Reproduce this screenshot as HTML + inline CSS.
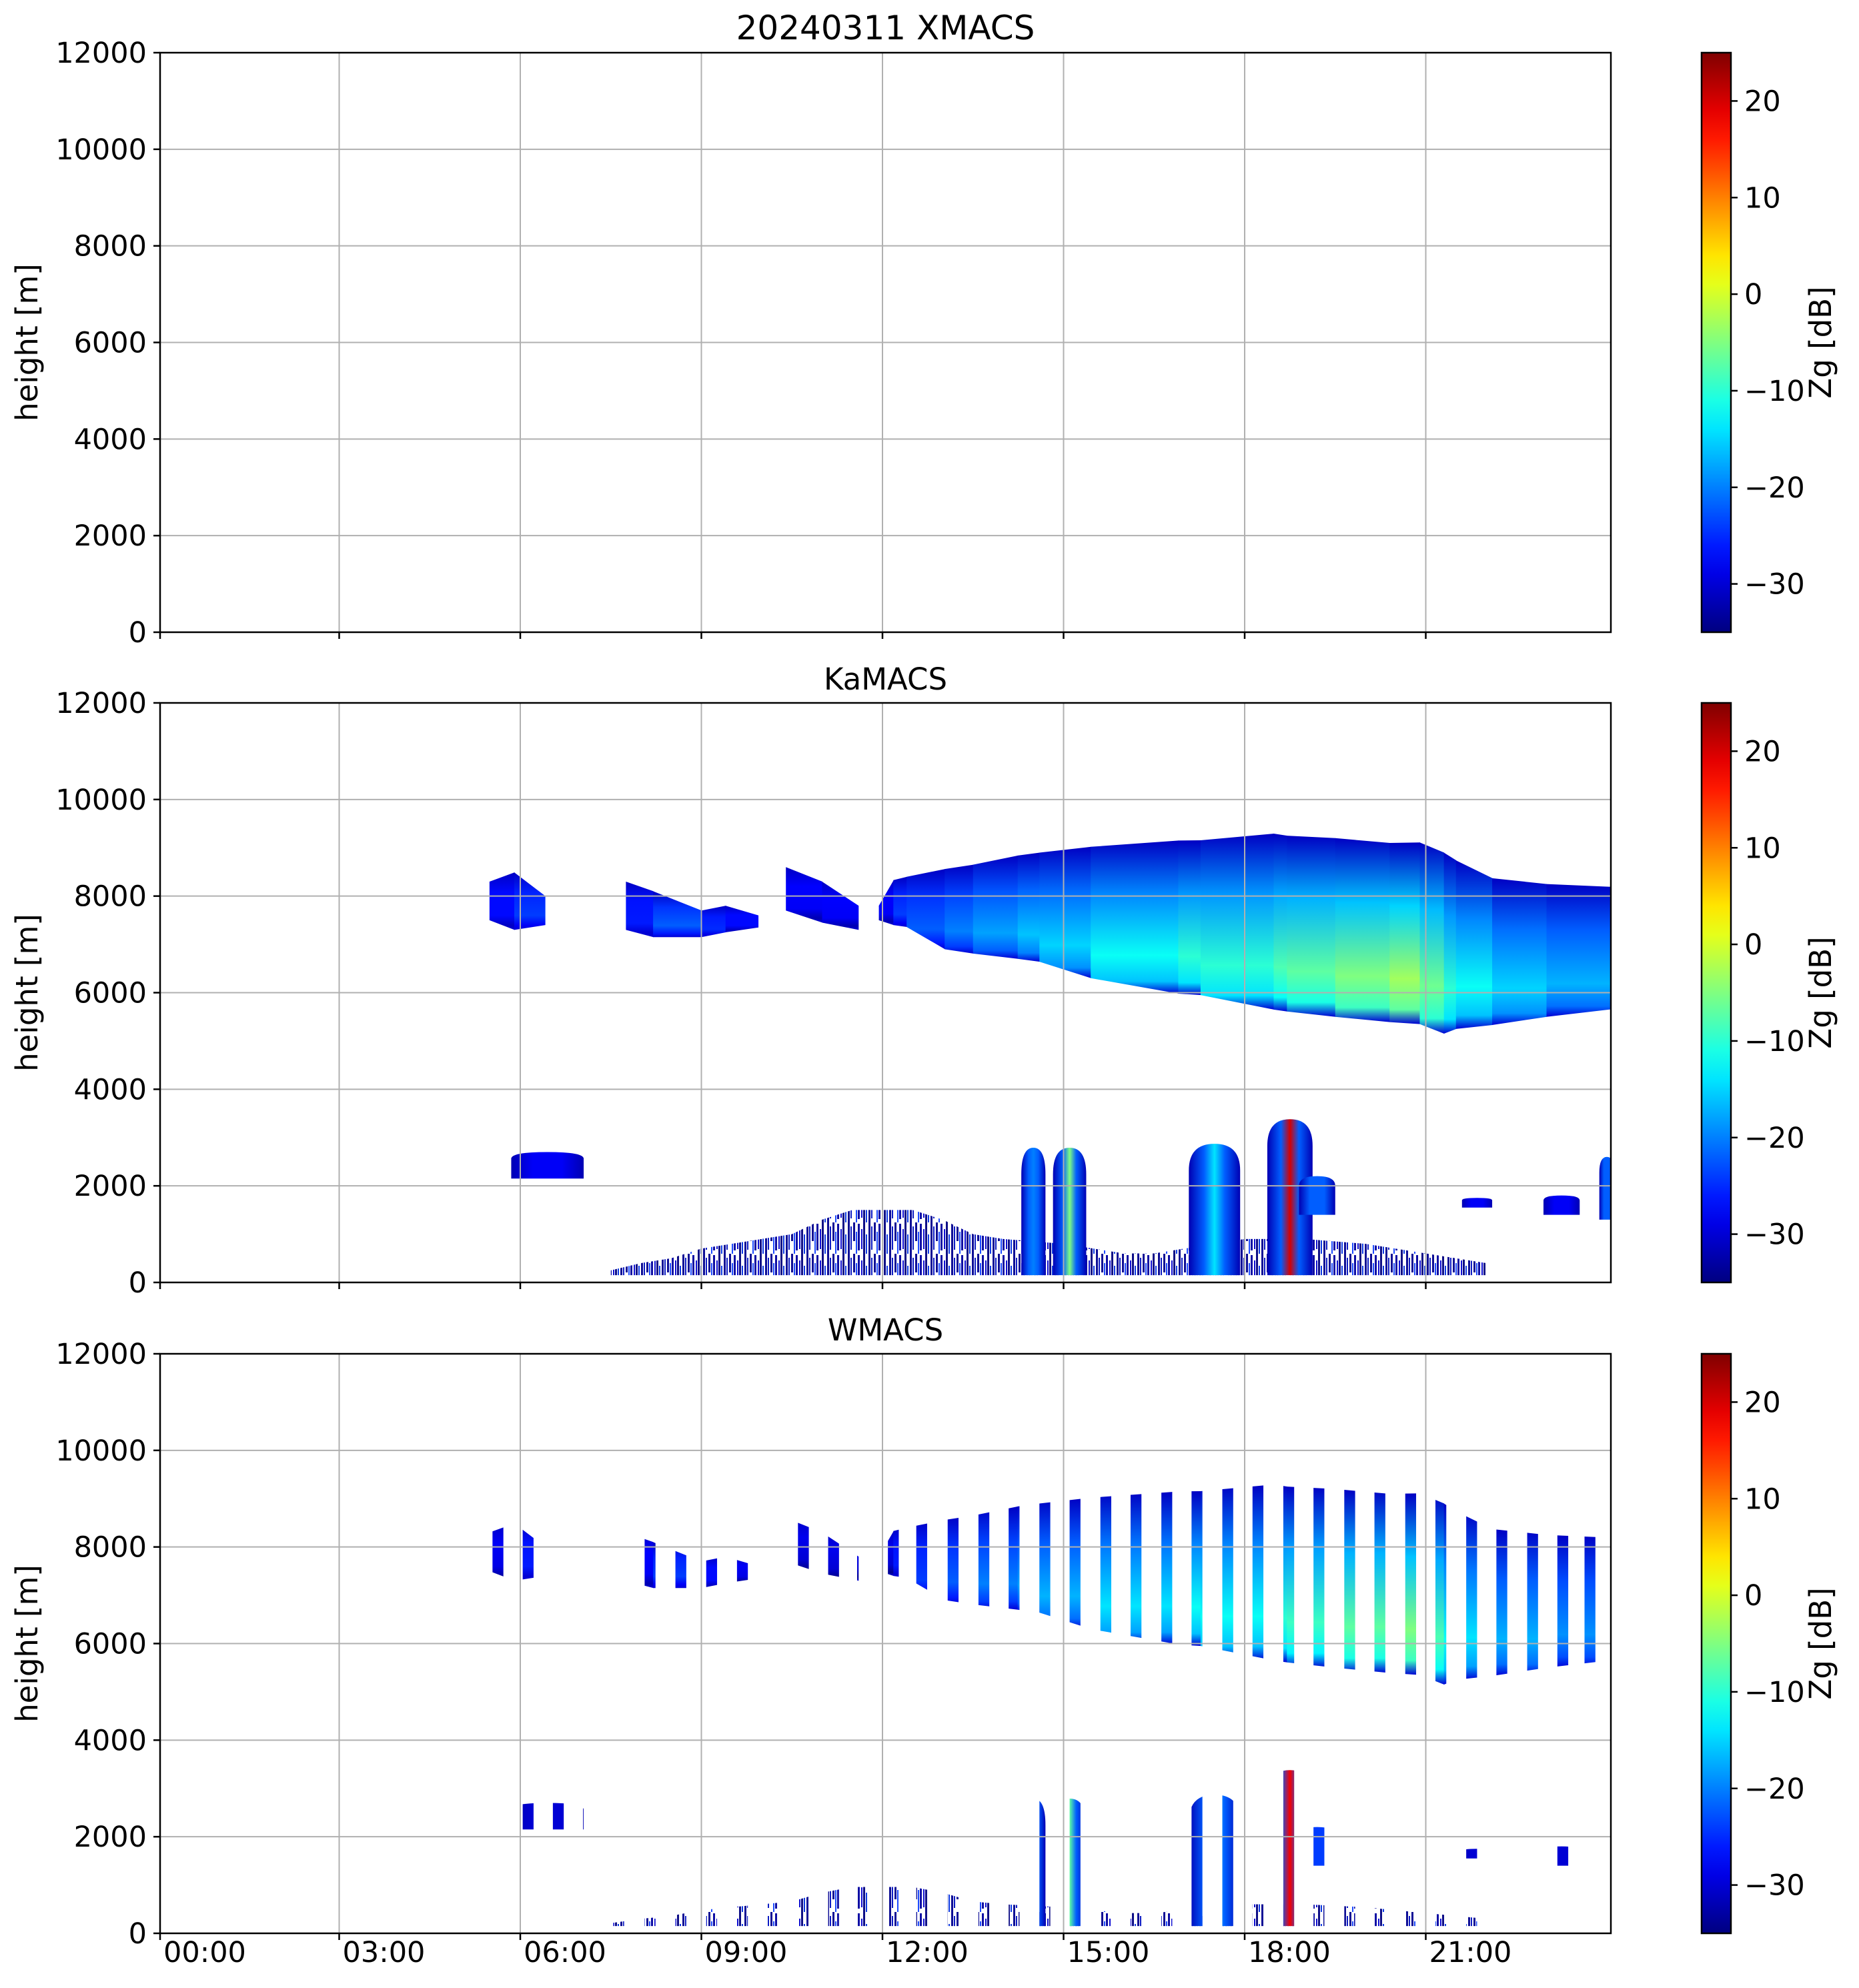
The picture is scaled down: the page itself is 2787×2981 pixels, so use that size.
<!DOCTYPE html>
<html><head><meta charset="utf-8">
<style>
html,body{margin:0;padding:0;background:#fff;}
svg{display:block;font-family:"DejaVu Sans","Liberation Sans",sans-serif;}
</style></head>
<body>
<svg id="fig" width="2787" height="2981" viewBox="0 0 2787 2981" xmlns="http://www.w3.org/2000/svg">
<defs id="defs">
  <pattern id="clutterPat" patternUnits="userSpaceOnUse" width="31" height="47">
    <rect x="0" y="0" width="3" height="47" fill="#00008f"/>
    <rect x="4" y="6" width="2" height="35" fill="#0010c0"/>
    <rect x="8" y="0" width="3" height="28" fill="#00008f"/>
    <rect x="12" y="14" width="2" height="33" fill="#1040ff"/>
    <rect x="15" y="2" width="3" height="40" fill="#00009f"/>
    <rect x="20" y="10" width="2" height="30" fill="#0000cf"/>
    <rect x="23" y="0" width="3" height="47" fill="#000080"/>
    <rect x="27" y="18" width="2" height="29" fill="#0030e0"/>
  </pattern>
  <linearGradient id="cbarGrad" x1="0" y1="1" x2="0" y2="0"></linearGradient>
</defs>
<g id="layer"></g>
</svg>
<script>
// ---------- data ----------
const yTicks = [0, 2000, 4000, 6000, 8000, 10000, 12000];
const xTickHours = [0, 3, 6, 9, 12, 15, 18, 21];
const xTickLabels = ["00:00","03:00","06:00","09:00","12:00","15:00","18:00","21:00"];
const cbarTicks = [-30, -20, -10, 0, 10, 20];
const panelTitles = ["20240311 XMACS", "KaMACS", "WMACS"];

// upper cloud layer (KaMACS), columns grouped into separate cloud bodies
const cloudGroup = [0,0,0, 1,1,1,1,1, 2,2,2, 3,3,3,3,3,3,3,3,3,3,3,3,3,3,3,3,3,3,3,3];
const cloudHours = [5.49,5.9,6.41, 7.75,8.2,9.0,9.4,9.94, 10.4,11.0,11.6, 11.94,12.18,12.4,13.03,13.5,14.24,14.6,15.45,16.9,17.27,18.48,18.7,19.5,20.4,20.9,21.3,21.5,22.1,23.0,24.1];
const cloudTops = [8300,8490,8000, 8300,8100,7700,7800,7600, 8600,8300,7800, 7800,8330,8400,8560,8650,8840,8900,9020,9150,9155,9293,9250,9200,9100,9110,8900,8740,8370,8250,8190];
const cloudBases = [7500,7300,7400, 7300,7150,7150,7250,7350, 7700,7450,7300, 7500,7400,7360,6900,6810,6700,6640,6300,5980,5950,5650,5610,5500,5390,5350,5150,5250,5330,5500,5660];
const cloudZ = [-27,-24,-28, -26,-22,-25,-27,-30, -28,-28,-30, -28,-24,-22,-20,-18,-16,-15,-12,-10,-10,-8,-7,-5,-3,-6,-10,-12,-15,-17,-20];

// low convective cells (KaMACS)
const cellHours = [6.45, 14.5, 15.1, 17.5, 18.75, 19.2, 21.85, 23.25, 24.0];
const cellWidths = [1.2, 0.4, 0.55, 0.85, 0.75, 0.6, 0.5, 0.6, 0.25];
const cellTops = [2700, 2790, 2790, 2870, 3380, 2200, 1750, 1800, 2600];
const cellBases = [2150, 150, 150, 150, 150, 1400, 1550, 1400, 1300];
const cellZ = [-28, -20, -5, -14, 20, -22, -28, -28, -22];

// low-level clutter/drizzle top height
const clutterHours = [7.5, 8, 8.5, 9, 9.5, 10, 10.5, 11, 11.5, 12, 12.5, 13, 13.5, 14, 15, 16, 16.5, 17, 18, 19, 20, 21, 22];
const clutterTops = [250, 400, 500, 700, 800, 900, 1000, 1300, 1500, 1500, 1500, 1300, 1000, 900, 800, 600, 600, 700, 900, 900, 800, 600, 400];

// WMACS sampling windows (centre hours)
const wWindows = [5.63,6.13,6.63,7.13,7.63,8.15,8.66,9.17,9.68,10.18,10.69,11.19,11.67,12.18,12.65,13.17,13.68,14.18,14.69,15.19,15.7,16.2,16.71,17.21,17.72,18.22,18.73,19.23,19.74,20.24,20.75,21.25,21.76,22.26,22.77,23.27,23.72];
const wWindowWidth = 0.18;

// ---------- geometry ----------
const X0 = 240, X1 = 2415;
const panelTop = [79, 1054, 2030];
const PH = 869;
const CBX = 2551, CBW = 44;
const ZMIN = -35, ZMAX = 25;
function xh(h){ return 237 + h * 90.5; }
function ym(p, m){ return panelTop[p] + PH * (1 - m / 12000); }
function ycb(p, v){ return panelTop[p] + PH * (ZMAX - v) / (ZMAX - ZMIN); }
function jet(z){
  let t = (z - ZMIN) / (ZMAX - ZMIN); t = Math.max(0, Math.min(1, t));
  const c = v => Math.round(255 * Math.max(0, Math.min(1, v)));
  return `rgb(${c(1.5-Math.abs(4*t-3))},${c(1.5-Math.abs(4*t-2))},${c(1.5-Math.abs(4*t-1))})`;
}
const NS = "http://www.w3.org/2000/svg";
const layer = document.getElementById("layer");
const defs = document.getElementById("defs");
function mk(tag, attrs, parent){
  const e = document.createElementNS(NS, tag);
  for (const k in attrs) e.setAttribute(k, attrs[k]);
  (parent || layer).appendChild(e);
  return e;
}
let gid = 0;
function grad(vertical, stops){
  const id = "g" + (gid++);
  const g = mk("linearGradient", vertical ? {id, x1:0, y1:0, x2:0, y2:1} : {id, x1:0, y1:0, x2:1, y2:0}, defs);
  stops.forEach(s => mk("stop", {offset: s[0], "stop-color": jet(s[1])}, g));
  return "url(#" + id + ")";
}

const cbg = document.getElementById("cbarGrad");
for (let i = 0; i <= 20; i++) mk("stop", {offset: i/20, "stop-color": jet(ZMIN + (ZMAX-ZMIN)*i/20)}, cbg);

const wClip = mk("clipPath", {id: "wclip"}, defs);
wWindows.forEach(h => mk("rect", {x: xh(h - wWindowWidth/2), y: panelTop[2], width: wWindowWidth*90.5, height: PH}, wClip));
const pClip = [0,1,2].map(p => {
  const c = mk("clipPath", {id: "pclip"+p}, defs);
  mk("rect", {x: X0, y: panelTop[p], width: X1-X0, height: PH}, c);
  return "url(#pclip"+p+")";
});

function drawRadar(p, zOff, clutterScale, parent){
  let d = "M" + xh(clutterHours[0]) + "," + ym(p,150);
  clutterHours.forEach((h,i) => { d += " L" + xh(h) + "," + ym(p, 150 + (clutterTops[i]-150)*clutterScale); });
  d += " L" + xh(clutterHours[clutterHours.length-1]) + "," + ym(p,150) + " Z";
  const cl = mk("path", {d, fill: "url(#clutterPat)", opacity: 0.95}, parent);
  
  
  for (let i = 0; i < cloudHours.length - 1; i++){
    if (cloudGroup[i] !== cloudGroup[i+1]) continue;
    const xa = xh(cloudHours[i]), xb = xh(cloudHours[i+1]) + 0.5;
    const z = cloudZ[i] + zOff;
    const fill = grad(true, [[0, -31], [0.35, (z - 31)/2 + 2], [0.75, z], [0.92, z - 4], [1, -30]]);
    const pts = `${xa},${ym(p,cloudTops[i])} ${xb},${ym(p,cloudTops[i+1])} ${xb},${ym(p,cloudBases[i+1])} ${xa},${ym(p,cloudBases[i])}`;
    const pg = mk("polygon", {points: pts, fill}, parent);
    
    
  }
  cellHours.forEach((h, i) => {
    const x0 = xh(h - cellWidths[i]/2), x1 = xh(h + cellWidths[i]/2), cx = xh(h);
    const yt = ym(p, cellTops[i]), yb = ym(p, cellBases[i]);
    const r = Math.min(40, (yb - yt) * 0.25);
    const z = cellZ[i] + zOff;
    const fill = grad(false, [[0, -32], [0.3, Math.min(z, -22)], [0.5, z], [0.7, Math.min(z, -22)], [1, -32]]);
    const dd = `M${x0},${yb} L${x0},${yt+r} Q${x0},${yt} ${cx},${yt} Q${x1},${yt} ${x1},${yt+r} L${x1},${yb} Z`;
    const c = mk("path", {d: dd, fill}, parent);
    
    
  });
}

const g2 = mk("g", {"clip-path": pClip[1]});


drawRadar(1, 0, 1, g2);
const g3 = mk("g", {"clip-path": "url(#wclip)"});


drawRadar(2, -2, 0.6, g3);

for (let p = 0; p < 3; p++){
  const top = panelTop[p], bot = top + PH;
  const ax = mk("g", {});
  
  
  yTicks.forEach(v => { const y = ym(p, v); mk("line", {x1: X0, x2: X1, y1: y, y2: y, stroke: "#b0b0b0", "stroke-width": 2}, ax); });
  xTickHours.forEach(h => { const x = xh(h); if (x > X0) mk("line", {x1: x, x2: x, y1: top, y2: bot, stroke: "#b0b0b0", "stroke-width": 2}, ax); });
  mk("rect", {x: X0, y: top, width: X1-X0, height: PH, fill: "none", stroke: "#000", "stroke-width": 2.5}, ax);
  yTicks.forEach(v => {
    const y = ym(p, v);
    mk("line", {x1: X0-10, x2: X0, y1: y, y2: y, stroke: "#000", "stroke-width": 2.5}, ax);
    const t = mk("text", {x: X0-20, y: y+15, "text-anchor": "end", "font-size": 43, fill: "#000"}, ax);
    t.textContent = v;
    
    
  });
  xTickHours.forEach((h, i) => {
    const x = Math.max(X0, xh(h));
    mk("line", {x1: x, x2: x, y1: bot, y2: bot+10, stroke: "#000", "stroke-width": 2.5}, ax);
    if (p === 2){
      const t = mk("text", {x: x+5, y: bot+43, "font-size": 43, fill: "#000"}, ax);
      t.textContent = xTickLabels[i];
      
      
    }
  });
  const yl = mk("text", {x: 0, y: 0, transform: `translate(56,${top+PH/2}) rotate(-90)`, "text-anchor": "middle", "font-size": 45, fill: "#000"}, ax);
  yl.textContent = "height [m]";
  
  
  const tt = mk("text", {x: (X0+X1)/2, y: top-20, "text-anchor": "middle", "font-size": p === 0 ? 50 : 45, fill: "#000"}, ax);
  tt.textContent = panelTitles[p];
  
  
  const cb = mk("g", {}, ax);
  
  
  mk("rect", {x: CBX, y: top, width: CBW, height: PH, fill: "url(#cbarGrad)", stroke: "#000", "stroke-width": 2.5}, cb);
  cbarTicks.forEach(v => {
    const y = ycb(p, v);
    mk("line", {x1: CBX+CBW, x2: CBX+CBW+10, y1: y, y2: y, stroke: "#000", "stroke-width": 2.5}, cb);
    const t = mk("text", {x: CBX+CBW+20, y: y+15, "font-size": 43, fill: "#000"}, cb);
    t.textContent = v < 0 ? "\u2212" + Math.abs(v) : String(v);
    
    
  });
  const cl = mk("text", {x: 0, y: 0, transform: `translate(2745,${top+PH/2}) rotate(-90)`, "text-anchor": "middle", "font-size": 45, fill: "#000"}, cb);
  cl.textContent = "Zg [dB]";
  
  
}
</script>
</body></html>
